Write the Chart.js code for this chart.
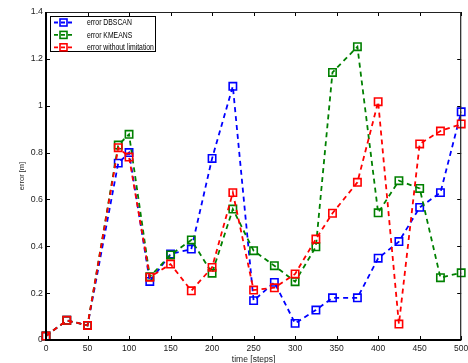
<!DOCTYPE html>
<html>
<head>
<meta charset="utf-8">
<script src="https://cdn.jsdelivr.net/npm/chart.js@4.4.1/dist/chart.umd.min.js"></script>
<style>
  html, body { margin: 0; padding: 0; background: #fff; }
  #wrap { width: 468px; height: 363px; }
</style>
</head>
<body>
<div id="wrap"><canvas id="chart" width="468" height="363"></canvas></div>
<script>
// x positions (time steps) shared by all three series
const xSteps = [0, 25, 50, 87, 100, 125, 150, 175, 200, 225, 250, 275, 300, 325, 345, 375, 400, 425, 450, 475, 500];

// error [m] per series
const errDbscan  = [0.017, 0.084, 0.062, 0.755, 0.800, 0.250, 0.367, 0.388, 0.775, 1.083, 0.168, 0.246, 0.071, 0.128, 0.180, 0.180, 0.349, 0.420, 0.566, 0.629, 0.974];
const errKmeans  = [0.017, 0.084, 0.062, 0.832, 0.878, 0.270, 0.363, 0.427, 0.285, 0.559, 0.381, 0.317, 0.249, 0.398, 1.142, 1.252, 0.543, 0.680, 0.647, 0.266, 0.287];
const errNoLimit = [0.017, 0.084, 0.062, 0.821, 0.781, 0.268, 0.324, 0.210, 0.310, 0.629, 0.213, 0.223, 0.282, 0.431, 0.541, 0.673, 1.017, 0.068, 0.837, 0.892, 0.922];

const seriesLabels = ['error DBSCAN', 'error KMEANS', 'error without limitation'];
const seriesColors = ['#0000ff', '#008000', '#ff0000'];

const xTicks = [0, 50, 100, 150, 200, 250, 300, 350, 400, 450, 500];
const yTicks = [0, 0.2, 0.4, 0.6, 0.8, 1, 1.2, 1.4];

const FONT = "'Liberation Sans', Arial, sans-serif";
const DASH = [5, 4];

function makeDataset(label, values, color, order) {
  return {
    label: label,
    data: values.map((v, i) => ({ x: xSteps[i], y: v })),
    borderColor: color,
    backgroundColor: color,
    borderWidth: 1.8,
    borderDash: DASH,
    pointStyle: 'rect',
    pointRadius: 5.2,
    pointBorderWidth: 1.6,
    pointBorderColor: color,
    pointBackgroundColor: 'rgba(0,0,0,0)',
    tension: 0,
    clip: false,
    order: order,
  };
}

// MATLAB-like box with inward ticks on all sides, plus the legend inside the axes
const boxPlugin = {
  id: 'box',
  afterDatasetsDraw(chart) {
    const { ctx, chartArea: a, scales } = chart;
    const x = scales.x, y = scales.y;
    const tl = 4;
    ctx.save();
    ctx.strokeStyle = '#000';
    ctx.lineWidth = 1;
    ctx.beginPath();
    xTicks.forEach((v) => {
      const px = Math.round(x.getPixelForValue(v)) + 0.5;
      ctx.moveTo(px, a.bottom); ctx.lineTo(px, a.bottom - tl);
      ctx.moveTo(px, a.top); ctx.lineTo(px, a.top + tl);
    });
    yTicks.forEach((v) => {
      const py = Math.round(y.getPixelForValue(v)) + 0.5;
      ctx.moveTo(a.left, py); ctx.lineTo(a.left + tl, py);
      ctx.moveTo(a.right, py); ctx.lineTo(a.right - tl, py);
    });
    ctx.stroke();

    ctx.strokeStyle = '#222';
    ctx.lineWidth = 1.2;
    ctx.beginPath();
    ctx.moveTo(a.left, a.top + 0.5); ctx.lineTo(a.right, a.top + 0.5);
    ctx.moveTo(a.right - 0.5, a.top); ctx.lineTo(a.right - 0.5, a.bottom);
    ctx.stroke();

    ctx.strokeStyle = '#000';
    ctx.lineWidth = 2;
    ctx.beginPath();
    ctx.moveTo(a.left, a.top); ctx.lineTo(a.left, a.bottom + 1);
    ctx.moveTo(a.left - 1, a.bottom); ctx.lineTo(a.right, a.bottom);
    ctx.stroke();
    ctx.restore();
  },
  afterDraw(chart) {
    const { ctx } = chart;
    const bx = 50.5, by = 16.5, bw = 105, bh = 35;
    ctx.save();
    ctx.fillStyle = '#fff';
    ctx.fillRect(bx, by, bw, bh);
    ctx.strokeStyle = '#000';
    ctx.lineWidth = 1;
    ctx.strokeRect(bx, by, bw, bh);

    chart.data.datasets.forEach((ds, i) => {
      const ry = 22.5 + i * 12.4;
      const color = ds.borderColor;
      ctx.strokeStyle = color;
      ctx.lineWidth = 1.8;
      ctx.setLineDash([4, 3]);
      ctx.beginPath();
      ctx.moveTo(54, ry); ctx.lineTo(72, ry);
      ctx.stroke();
      ctx.setLineDash([]);
      ctx.lineWidth = 1.6;
      ctx.strokeRect(60, ry - 3.5, 7, 7);

      // text is narrower than plain Arial in the original, squeeze it a bit
      ctx.save();
      ctx.translate(87, ry + 0.5);
      ctx.scale(0.76, 1);
      ctx.font = '9px ' + FONT;
      ctx.textBaseline = 'middle';
      ctx.textAlign = 'left';
      ctx.fillStyle = '#000';
      ctx.fillText(ds.label, 0, 0);
      ctx.restore();
    });
    ctx.restore();
  }
};

const ctx = document.getElementById('chart').getContext('2d');
const myChart = new Chart(ctx, {
  type: 'line',
  data: {
    datasets: [
      makeDataset(seriesLabels[0], errDbscan, seriesColors[0], 2),
      makeDataset(seriesLabels[1], errKmeans, seriesColors[1], 1),
      makeDataset(seriesLabels[2], errNoLimit, seriesColors[2], 0),
    ]
  },
  options: {
    responsive: false,
    animation: false,
    devicePixelRatio: 1,
    layout: { padding: { top: 12, right: 5, left: 0, bottom: 0 } },
    plugins: {
      legend: { display: false },
      tooltip: { enabled: false },
    },
    scales: {
      x: {
        type: 'linear',
        min: 0,
        max: 500,
        grid: { display: false, drawTicks: false },
        border: { display: false },
        afterBuildTicks: (s) => { s.ticks = xTicks.map((v) => ({ value: v })); },
        afterFit: (s) => { s.height = 23; s.paddingLeft = 0; s.paddingRight = 0; },
        ticks: {
          color: '#222',
          padding: 4,
          maxRotation: 0,
          autoSkip: false,
          font: { family: FONT, size: 8.5 },
        },
        title: {
          display: true,
          text: 'time [steps]',
          color: '#222',
          padding: { top: 0, bottom: -2 },
          font: { family: FONT, size: 8.5 },
        },
      },
      y: {
        min: 0,
        max: 1.4,
        grid: { display: false, drawTicks: false },
        border: { display: false },
        afterBuildTicks: (s) => { s.ticks = yTicks.map((v) => ({ value: v })); },
        afterFit: (s) => { s.width = 46; s.paddingTop = 0; s.paddingBottom = 0; },
        ticks: {
          color: '#222',
          padding: 3,
          autoSkip: false,
          font: { family: FONT, size: 8.8 },
          callback: (v) => String(+Number(v).toFixed(1)),
        },
        title: {
          display: true,
          text: 'error [m]',
          color: '#222',
          padding: { top: 17, bottom: 0 },
          font: { family: FONT, size: 7.5 },
        },
      },
    },
  },
  plugins: [boxPlugin],
});
</script>
</body>
</html>
